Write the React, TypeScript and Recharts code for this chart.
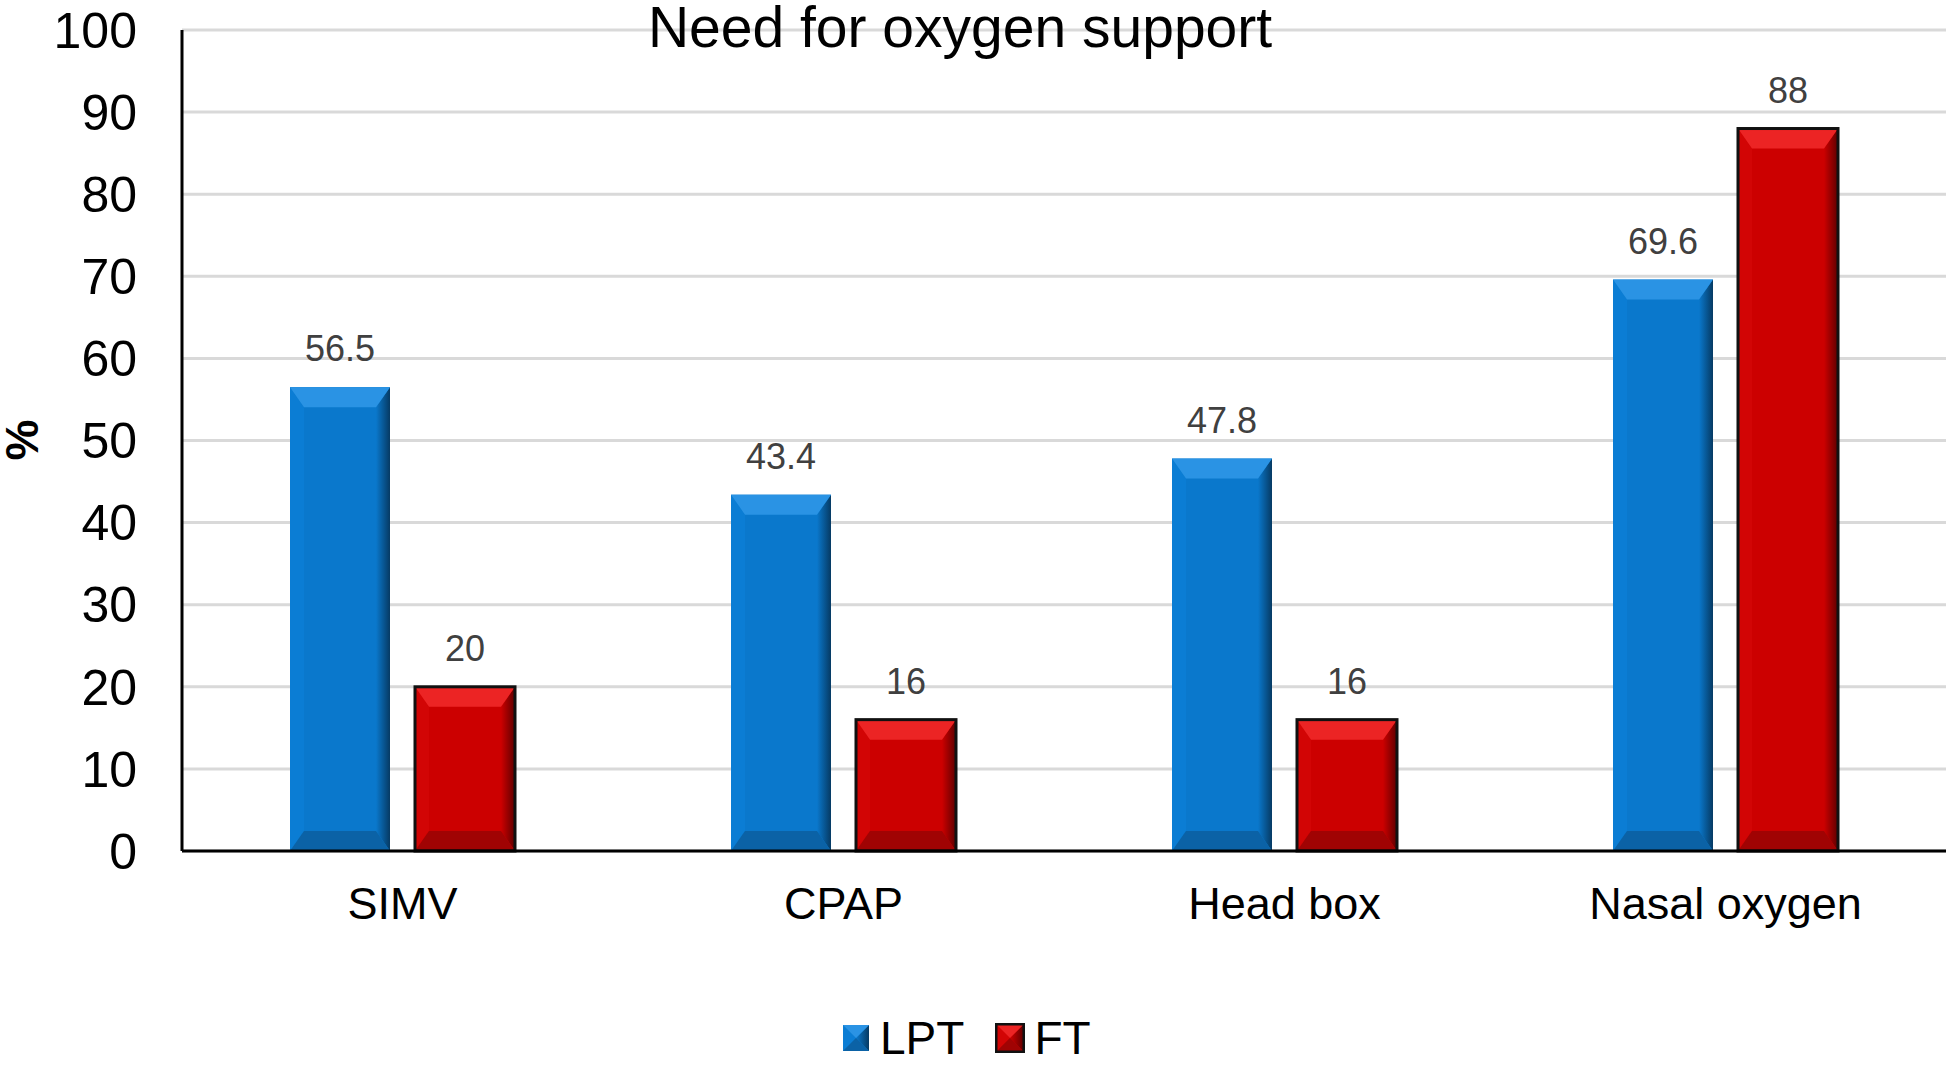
import React from "react";
import {
  BarChart,
  Bar,
  XAxis,
  YAxis,
  CartesianGrid,
  Legend,
  LabelList,
} from "recharts";

const CATEGORIES = ["SIMV", "CPAP", "Head box", "Nasal oxygen"];
const LPT_VALUES = [56.5, 43.4, 47.8, 69.6];
const FT_VALUES = [20, 16, 16, 88];
const Y_TICKS = [0, 10, 20, 30, 40, 50, 60, 70, 80, 90, 100];

const data = CATEGORIES.map((name, i) => ({
  name,
  LPT: LPT_VALUES[i],
  FT: FT_VALUES[i],
}));

const FONT = '"Liberation Sans", Arial, sans-serif';

type Palette = {
  id: string;
  main: string;
  top: string;
  left: string;
  bottom: string;
  right: string;
  stroke?: string;
};

const BLUE: Palette = {
  id: "blue",
  main: "#0a78cc",
  top: "#2a93e4",
  left: "#0b7dd4",
  bottom: "#0b62a6",
  right: "#063a63",
};

const RED: Palette = {
  id: "red",
  main: "#cc0000",
  top: "#ec2424",
  left: "#d20505",
  bottom: "#a00303",
  right: "#5e0000",
  stroke: "#111",
};

function Bevel({
  x,
  y,
  width,
  height,
  pal,
  b,
  side,
}: {
  x: number;
  y: number;
  width: number;
  height: number;
  pal: Palette;
  b: number;
  side: number;
}) {
  if (!height || height <= 0) return null;
  const bb = Math.min(b, height / 2, width / 2);
  const ss = Math.min(side, width / 2);
  const r = x + width;
  const btm = y + height;
  const gid = `grad-${pal.id}`;
  return (
    <g>
      <defs>
        <linearGradient id={gid} x1="0" y1="0" x2="1" y2="0">
          <stop offset="0%" stopColor={pal.main} />
          <stop offset="100%" stopColor={pal.right} />
        </linearGradient>
      </defs>
      <rect x={x} y={y} width={width} height={height} fill={pal.main} />
      <polygon
        points={`${x},${y} ${x + ss},${y + bb} ${x + ss},${btm - bb} ${x},${btm}`}
        fill={pal.left}
      />
      <polygon
        points={`${r},${y} ${r - ss},${y + bb} ${r - ss},${btm - bb} ${r},${btm}`}
        fill={`url(#${gid})`}
      />
      <polygon
        points={`${x},${y} ${r},${y} ${r - ss},${y + bb} ${x + ss},${y + bb}`}
        fill={pal.top}
      />
      <polygon
        points={`${x},${btm} ${r},${btm} ${r - ss},${btm - bb} ${x + ss},${btm - bb}`}
        fill={pal.bottom}
      />
      {pal.stroke && (
        <rect
          x={x}
          y={y}
          width={width}
          height={height}
          fill="none"
          stroke={pal.stroke}
          strokeWidth={3}
        />
      )}
    </g>
  );
}

function LegendBox({ pal, size }: { pal: Palette; size: number }) {
  return (
    <svg width={size + 2} height={size + 2} style={{ display: "block" }}>
      <Bevel
        x={1}
        y={1}
        width={size}
        height={size}
        pal={{ ...pal, id: pal.id + "-leg" }}
        b={size / 2}
        side={size / 2}
      />
    </svg>
  );
}

function LegendContent() {
  return (
    <div
      style={{
        display: "flex",
        alignItems: "center",
        height: 60,
        paddingLeft: 842,
        fontFamily: FONT,
        fontSize: 46,
        color: "#000",
      }}
    >
      <LegendBox pal={BLUE} size={26} />
      <span style={{ marginLeft: 10, marginRight: 31 }}>LPT</span>
      <LegendBox pal={RED} size={28} />
      <span style={{ marginLeft: 9 }}>FT</span>
    </div>
  );
}

export default function App() {
  return (
    <div
      style={{
        position: "absolute",
        left: 0,
        top: 0,
        width: 1946,
        height: 1068,
        background: "#fff",
        fontFamily: FONT,
      }}
    >
      <div
        style={{
          position: "absolute",
          top: -1,
          left: 0,
          width: 1920,
          textAlign: "center",
          fontSize: 57,
          lineHeight: "57px",
          color: "#000",
          zIndex: 2,
        }}
      >
        Need for oxygen support
      </div>
      <BarChart
        width={1946}
        height={1068}
        data={data}
        margin={{ top: 30, right: 0, left: 0, bottom: 0 }}
        barSize={100}
        barGap={25}
      >
        <CartesianGrid vertical={false} stroke="#d9d9d9" strokeWidth={3} />
        <XAxis
          dataKey="name"
          height={157}
          tickLine={false}
          tickSize={0}
          tickMargin={36}
          axisLine={{ stroke: "#000", strokeWidth: 3 }}
          tick={{ fill: "#000", fontSize: 45, fontFamily: FONT }}
        />
        <YAxis
          width={182}
          domain={[0, 100]}
          ticks={Y_TICKS}
          interval={0}
          tickLine={false}
          tickSize={0}
          tickMargin={45}
          axisLine={{ stroke: "#000", strokeWidth: 3 }}
          tick={{ fill: "#000", fontSize: 50, fontFamily: FONT }}
          label={{
            value: "%",
            content: () => (
              <text
                x={0}
                y={0}
                transform="translate(38, 440) rotate(-90)"
                textAnchor="middle"
                fontSize={46}
                fontWeight="bold"
                fontFamily={FONT}
                fill="#000"
              >
                %
              </text>
            ),
          }}
        />
        <Legend
          verticalAlign="bottom"
          content={() => <LegendContent />}
          wrapperStyle={{ left: 0, width: 1946, height: 60 }}
        />
        <Bar
          dataKey="LPT"
          isAnimationActive={false}
          fill={BLUE.main}
          shape={(p: any) => (
            <Bevel x={p.x} y={p.y} width={p.width} height={p.height} pal={BLUE} b={20} side={14} />
          )}
        >
          <LabelList
            dataKey="LPT"
            position="top"
            offset={26}
            fill="#404040"
            fontSize={36}
            fontFamily={FONT}
          />
        </Bar>
        <Bar
          dataKey="FT"
          isAnimationActive={false}
          fill={RED.main}
          shape={(p: any) => (
            <Bevel x={p.x} y={p.y} width={p.width} height={p.height} pal={RED} b={20} side={14} />
          )}
        >
          <LabelList
            dataKey="FT"
            position="top"
            offset={26}
            fill="#404040"
            fontSize={36}
            fontFamily={FONT}
          />
        </Bar>
      </BarChart>
    </div>
  );
}
